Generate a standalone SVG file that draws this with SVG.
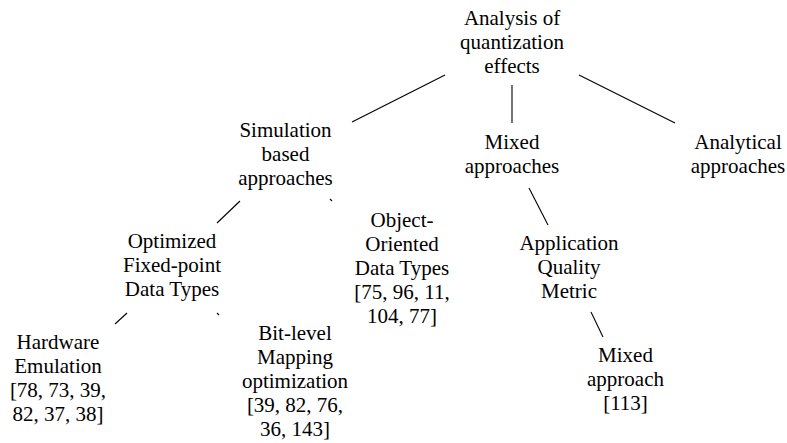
<svg xmlns="http://www.w3.org/2000/svg" width="787" height="443" viewBox="0 0 787 443">
<style>
text{font-family:"Liberation Serif","Times New Roman",serif;font-size:21px;fill:#000;text-anchor:middle}
.e line{stroke:#000;stroke-width:1.1;fill:none}
</style>
<rect width="787" height="443" fill="#fff"/>
<g class="e" id="connectors">
<line x1="445" y1="75" x2="352" y2="122"/>
<line x1="512" y1="85" x2="512" y2="123"/>
<line x1="579" y1="75" x2="675" y2="123"/>
<line x1="240" y1="201" x2="217" y2="223"/>
<line x1="330" y1="199" x2="332" y2="201"/>
<line x1="529" y1="188" x2="548" y2="225"/>
<line x1="127" y1="313" x2="115" y2="324"/>
<line x1="217" y1="313" x2="219" y2="315"/>
<line x1="591" y1="312" x2="603" y2="337"/>
</g>
<g id="root"><text x="512" y="25">Analysis of</text><text x="512" y="49">quantization</text><text x="512" y="73">effects</text></g>
<g id="sim"><text x="285.5" y="137">Simulation</text><text x="285.5" y="161">based</text><text x="285.5" y="185">approaches</text></g>
<g id="mixed"><text x="512" y="149">Mixed</text><text x="512" y="173">approaches</text></g>
<g id="analytical"><text x="738" y="149">Analytical</text><text x="738" y="173">approaches</text></g>
<g id="optimized"><text x="172" y="248">Optimized</text><text x="172" y="272">Fixed-point</text><text x="172" y="296">Data Types</text></g>
<g id="oo"><text x="402" y="227">Object-</text><text x="402" y="251">Oriented</text><text x="402" y="275">Data Types</text><text x="402" y="299">[75, 96, 11,</text><text x="402" y="323">104, 77]</text></g>
<g id="aqm"><text x="569" y="250">Application</text><text x="569" y="274">Quality</text><text x="569" y="298">Metric</text></g>
<g id="hw"><text x="58" y="349">Hardware</text><text x="58" y="373">Emulation</text><text x="58" y="397">[78, 73, 39,</text><text x="58" y="421">82, 37, 38]</text></g>
<g id="bit"><text x="295" y="340">Bit-level</text><text x="295" y="364">Mapping</text><text x="295" y="388">optimization</text><text x="295" y="412">[39, 82, 76,</text><text x="295" y="436">36, 143]</text></g>
<g id="mixedapp"><text x="625.5" y="362">Mixed</text><text x="625.5" y="386">approach</text><text x="625.5" y="410">[113]</text></g>
</svg>
